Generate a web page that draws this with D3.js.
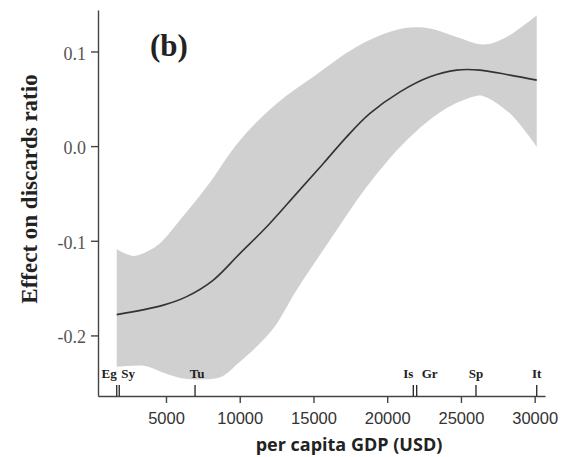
<!DOCTYPE html>
<html>
<head>
<meta charset="utf-8">
<script src="https://cdn.jsdelivr.net/npm/d3@7"></script>
<style>
  body { margin: 0; background: #fff; }
</style>
</head>
<body>
<svg id="chart"></svg>
<script>

// data
var countries = ["Eg", "Sy", "Tu", "Is", "Gr", "Sp", "It"];
var countryGdp = [1660, 1830, 6970, 21770, 22000, 26020, 30140];

var fitGdp = [1660, 4820, 6400, 8210, 10020, 11830, 13860, 15670, 17250, 18830, 20870, 22900, 24710, 26290, 28330, 30140];
var fitEffect = [-0.178, -0.168, -0.159, -0.1415, -0.1133, -0.0852, -0.0499, -0.0183, 0.0098, 0.0345, 0.0573, 0.0732, 0.0803, 0.0803, 0.075, 0.0697];

var upperGdp = [1660, 2780, 3690, 4590, 5950, 7760, 10020, 12510, 14990, 17930, 20190, 21550, 22900, 24710, 26520, 28100, 30140];
var upperEffect = [-0.109, -0.116, -0.1116, -0.1027, -0.0781, -0.043, 0.0063, 0.0451, 0.0732, 0.1049, 0.1207, 0.1253, 0.1243, 0.1154, 0.1074, 0.1154, 0.1383];

var lowerGdp = [1660, 2440, 3580, 4930, 6070, 7640, 8780, 9900, 11260, 12390, 13860, 16120, 18610, 21320, 23800, 25840, 26520, 28330, 30140];
var lowerEffect = [-0.2331, -0.2323, -0.2323, -0.24, -0.2453, -0.2464, -0.2436, -0.2295, -0.2101, -0.1903, -0.152, -0.0993, -0.043, 0.0063, 0.038, 0.0521, 0.0528, 0.0345, -0.0007];

var xTicks = [5000, 10000, 15000, 20000, 25000, 30000];
var yTicks = [-0.2, -0.1, 0.0, 0.1];

var width = 566;
var height = 457;

var svg = d3.select("#chart")
    .attr("width", width)
    .attr("height", height);

var xScale = d3.scaleLinear()
    .domain([390, 30700])
    .range([98, 545]);

var yScale = d3.scaleLinear()
    .domain([-0.264, 0.1438])
    .range([396, 10]);

var line = d3.line()
    .x(function (d) { return xScale(d[0]); })
    .y(function (d) { return yScale(d[1]); })
    .curve(d3.curveCatmullRom);

// confidence band: upper edge left->right, lower edge right->left
var upperPts = d3.zip(upperGdp, upperEffect);
var lowerPts = d3.zip(lowerGdp, lowerEffect).reverse();
var bandPath = line(upperPts) + "L" + line(lowerPts).slice(1) + "Z";

svg.append("path")
    .attr("d", bandPath)
    .attr("fill", "#d0d0d0")
    .attr("stroke", "none");

svg.append("path")
    .attr("d", line(d3.zip(fitGdp, fitEffect)))
    .attr("fill", "none")
    .attr("stroke", "#333")
    .attr("stroke-width", 1.6);

// axes
var y_axis = d3.axisLeft(yScale)
    .tickValues(yTicks)
    .tickSize(7)
    .tickSizeOuter(0)
    .tickPadding(5)
    .tickFormat(function (d) { return d3.format(".1f")(d).replace("\u2212", "-"); });

var gy = svg.append("g")
    .attr("transform", "translate(98,0)")
    .call(y_axis);

gy.selectAll("text")
    .attr("font-family", "'Liberation Serif', 'Times New Roman', serif")
    .attr("font-size", 18)
    .attr("fill", "#555")
    .attr("dy", "0.42em");

var x_axis = d3.axisBottom(xScale)
    .tickValues(xTicks)
    .tickSize(7)
    .tickSizeOuter(0)
    .tickPadding(9)
    .tickFormat(d3.format("d"));

var gx = svg.append("g")
    .attr("transform", "translate(0,396)")
    .call(x_axis);

gx.selectAll("text")
    .attr("font-family", "'Liberation Sans', Arial, sans-serif")
    .attr("font-size", 16.5)
    .attr("fill", "#333");

svg.selectAll(".domain, .tick line")
    .attr("stroke", "#444")
    .attr("stroke-width", 1.4);

// rug of country GDP values
svg.selectAll(".rug")
    .data(countryGdp)
    .enter()
    .append("line")
    .attr("class", "rug")
    .attr("x1", function (d) { return xScale(d); })
    .attr("x2", function (d) { return xScale(d); })
    .attr("y1", 385)
    .attr("y2", 396)
    .attr("stroke", "#222")
    .attr("stroke-width", 1.3);

var labelAnchor = ["end", "start", "middle", "end", "start", "middle", "middle"];
var labelShift = [0, 2, 2, 0, 5, 0, 0];

svg.selectAll(".rugLabel")
    .data(countries)
    .enter()
    .append("text")
    .attr("class", "rugLabel")
    .attr("x", function (d, i) { return xScale(countryGdp[i]) + labelShift[i]; })
    .attr("y", 377.5)
    .attr("text-anchor", function (d, i) { return labelAnchor[i]; })
    .attr("font-family", "'Liberation Serif', 'Times New Roman', serif")
    .attr("font-weight", "bold")
    .attr("font-size", 13)
    .attr("fill", "#222")
    .text(function (d) { return d; });

// panel tag
svg.append("text")
    .attr("x", 150)
    .attr("y", 56)
    .attr("font-family", "'Liberation Serif', 'Times New Roman', serif")
    .attr("font-weight", "bold")
    .attr("font-size", 31)
    .attr("fill", "#222")
    .text("(b)");

// axis titles
svg.append("text")
    .attr("transform", "translate(36.5,189) rotate(-90)")
    .attr("text-anchor", "middle")
    .attr("font-family", "'Liberation Serif', 'Times New Roman', serif")
    .attr("font-weight", "bold")
    .attr("font-size", 23)
    .attr("fill", "#222")
    .text("Effect on discards ratio");

svg.append("text")
    .attr("x", 349)
    .attr("y", 451)
    .attr("text-anchor", "middle")
    .attr("font-family", "'Open Sans', sans-serif")
    .attr("font-weight", "bold")
    .attr("font-size", 18)
    .attr("fill", "#222")
    .text("per capita GDP (USD)");

</script>
</body>
</html>
